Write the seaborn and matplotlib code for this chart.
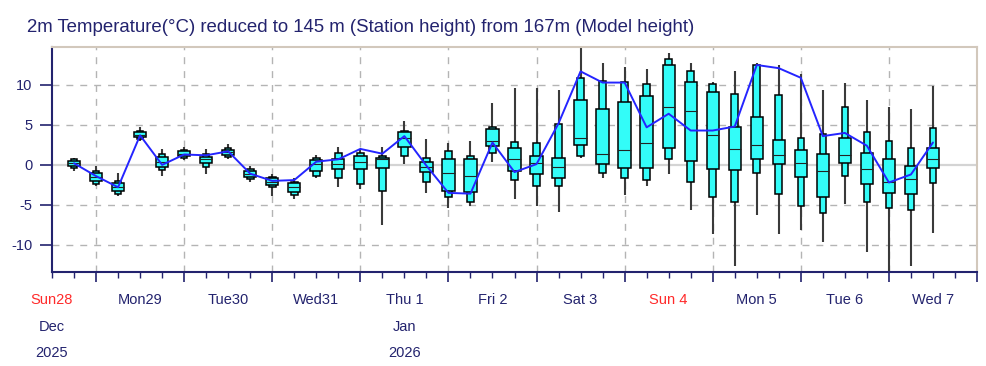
import numpy as np
import pandas as pd
import matplotlib
matplotlib.use('Agg')
import matplotlib.pyplot as plt
import matplotlib.dates as mdates
import matplotlib.transforms as mtransforms
import seaborn as sns

# ensemble 6-hourly steps, Sun 28 Dec 18 UTC .. Wed 7 Jan 12 UTC
times = pd.date_range('2025-12-28 18:00', '2026-01-07 12:00', freq='6h')

t_min = [-0.8, -2.6, -3.9, 3.0, -1.4, 0.6, -1.2, 0.7, -2.2, -3.9,
         -4.3, -1.7, -2.8, -3.0, -7.5, 0.1, -3.5, -5.4, -5.2, 0.4,
         -4.3, -5.1, -5.9, 0.9, -1.6, -3.8, -2.6, -1.2, -5.6, -8.7,
         -12.7, -6.3, -8.6, -8.2, -9.6, -4.9, -10.9, -14.5, -12.6, -8.5]
t_p10 = [-0.4, -2.4, -3.6, 3.3, -0.6, 0.9, -0.3, 1.0, -1.8, -2.8,
         -3.8, -1.4, -1.6, -2.4, -3.3, 1.1, -2.2, -4.0, -4.7, 1.5,
         -1.9, -2.6, -2.7, 1.1, -1.0, -1.6, -1.9, 0.8, -2.2, -4.0,
         -4.7, -1.0, -3.6, -5.2, -6.0, -1.4, -4.7, -5.4, -5.6, -2.3]
t_p25 = [-0.2, -2.0, -3.3, 3.5, -0.3, 1.1, 0.2, 1.3, -1.5, -2.5,
         -3.4, -0.8, -0.5, -0.5, -0.4, 2.3, -0.9, -3.3, -3.4, 2.4,
         -0.8, -1.1, -1.7, 2.5, 0.1, -0.4, -0.4, 2.1, 0.5, -0.5,
         -0.7, 0.8, 0.1, -1.5, -4.0, 0.2, -2.4, -3.5, -3.7, -0.4]
t_med = [0.2, -1.5, -2.8, 3.8, 0.3, 1.4, 0.7, 1.6, -1.1, -2.1,
         -2.8, 0.1, 0.1, 0.3, 0.7, 3.4, -0.3, -1.0, -1.4, 3.0,
         0.7, 0.2, -0.3, 3.4, 1.4, 1.9, 2.8, 7.2, 6.8, 3.8,
         2.0, 2.5, 1.3, 0.2, -0.8, 1.3, -0.5, -2.2, -1.8, 0.8]
t_p75 = [0.5, -1.0, -2.3, 4.1, 1.0, 1.7, 1.0, 1.9, -0.8, -1.7,
         -2.3, 0.6, 0.8, 1.1, 0.9, 4.1, 0.3, 0.7, 0.7, 4.5,
         2.1, 1.1, 0.9, 8.1, 7.0, 7.9, 8.6, 12.5, 10.4, 9.1,
         4.8, 6.0, 3.1, 1.9, 1.4, 3.4, 1.5, 0.8, -0.2, 2.1]
t_p90 = [0.7, -0.8, -2.0, 4.3, 1.4, 1.9, 1.4, 2.1, -0.5, -1.5,
         -2.1, 0.9, 1.5, 1.5, 1.1, 4.3, 0.9, 1.8, 1.1, 4.8,
         2.9, 2.8, 5.1, 10.9, 10.5, 10.4, 10.1, 13.2, 11.8, 10.1,
         8.9, 12.5, 8.7, 3.4, 3.9, 7.3, 4.1, 3.0, 2.1, 4.6]
t_max = [0.9, -0.1, -1.0, 4.7, 2.0, 2.3, 2.0, 2.6, -0.1, -1.2,
         -1.7, 1.2, 2.3, 2.0, 2.2, 5.5, 3.2, 2.8, 3.0, 7.8,
         9.6, 9.6, 9.4, 14.7, 12.7, 12.3, 12.0, 14.0, 12.7, 10.4,
         11.8, 12.7, 12.5, 11.4, 9.4, 10.2, 8.1, 7.3, 7.0, 9.9]

# high resolution run (blue line)
hres = [0.2, -1.4, -2.8, 3.7, 0.0, 1.3, 1.2, 1.7, -1.1, -2.0,
        -1.9, 0.4, 0.7, 2.0, 1.4, 3.6, -0.1, -3.5, -3.6, 2.8,
        -0.9, 0.1, 5.2, 11.7, 10.3, 10.3, 4.7, 6.4, 4.3, 4.3,
        4.8, 12.5, 12.1, 10.9, 3.6, 4.0, 2.4, -2.2, -1.2, 2.8]

day_names = ['Sun28', 'Mon29', 'Tue30', 'Wed31', 'Thu 1', 'Fri 2',
             'Sat 3', 'Sun 4', 'Mon 5', 'Tue 6', 'Wed 7']
day_noons = pd.date_range('2025-12-28 12:00', periods=11, freq='D')

navy = '#23236e'
cyan = '#33fcf8'

sns.set_style('white')
plt.rcParams['font.family'] = ['Liberation Sans', 'DejaVu Sans']
plt.rcParams['axes.unicode_minus'] = False

fig = plt.figure(figsize=(9.86, 3.66), dpi=100)
ax = fig.add_axes([52 / 986, 1 - 272 / 366, 925 / 986, 225 / 366])

xs = mdates.date2num(times)
lo = np.array(t_p10); hi = np.array(t_p90)
q1 = np.array(t_p25); q3 = np.array(t_p75)

ax.vlines(xs, t_min, t_max, color='#3a3a3a', lw=1.5, zorder=2)
ax.bar(xs, hi - lo, bottom=lo, width=0.075, color=cyan,
       edgecolor='black', lw=1.1, zorder=3)
ax.bar(xs, q3 - q1, bottom=q1, width=0.14, color=cyan,
       edgecolor='black', lw=1.1, zorder=4)
ax.hlines(t_med, xs - 0.07, xs + 0.07, color='#222222', lw=0.8, zorder=5)
sns.lineplot(x=xs, y=hres, ax=ax, color='#2424ff', lw=1.4, zorder=6)

x0 = mdates.date2num(pd.Timestamp('2025-12-28 12:00'))
x1 = mdates.date2num(pd.Timestamp('2026-01-08 00:00'))
ax.set_xlim(x0, x1)
ax.set_ylim(-13.4, 14.75)

# grid
for v in [-10, -5, 5, 10]:
    ax.axhline(v, color='#b4b4b4', lw=1, ls=(0, (5, 5)), zorder=1)
ax.axhline(0, color='#d4d4d4', lw=1.6, zorder=1)
midnights = mdates.date2num(pd.date_range('2025-12-29', '2026-01-08', freq='D'))
for m in midnights[:-1]:
    ax.axvline(m, color='#b4b4b4', lw=1, ls=(0, (5, 5)), zorder=1)

ax.set_yticks([-10, -5, 0, 5, 10])
ax.set_yticklabels(['-10', '-5', '0', '5', '10'])
ax.tick_params(axis='y', direction='out', length=9, width=1.2, colors=navy,
               labelsize=10.5, pad=5, left=True)
ax.set_xticks(midnights)
ax.set_xticklabels([''] * len(midnights))
ax.set_xticks(mdates.date2num(pd.date_range('2025-12-28 12:00', '2026-01-08', freq='6h')),
              minor=True)
ax.tick_params(axis='x', which='major', direction='out', length=7, width=1.2,
               colors=navy, bottom=True)
ax.tick_params(axis='x', which='minor', direction='out', length=4, width=1,
               colors=navy, bottom=True)

for side in ['left', 'bottom']:
    ax.spines[side].set_color(navy)
    ax.spines[side].set_linewidth(1.5)
for side in ['top', 'right']:
    ax.spines[side].set_color('#d2c8bc')
    ax.spines[side].set_linewidth(1.5)

trans = mtransforms.blended_transform_factory(ax.transData, ax.transAxes)
for d, name in zip(day_noons, day_names):
    col = '#ff2a2a' if name.startswith('Sun') else navy
    ax.text(mdates.date2num(d), -0.125, name, transform=trans, ha='center',
            va='center', fontsize=10.5, color=col)
for d, mon, yr in [(day_noons[0], 'Dec', '2025'), (day_noons[4], 'Jan', '2026')]:
    ax.text(mdates.date2num(d), -0.245, mon, transform=trans, ha='center',
            va='center', fontsize=10.5, color=navy)
    ax.text(mdates.date2num(d), -0.36, yr, transform=trans, ha='center',
            va='center', fontsize=10.5, color=navy)

fig.text(27 / 986, 1 - 27 / 366,
         '2m Temperature(\u00b0C) reduced to 145 m (Station height) from 167m (Model height)',
         ha='left', va='center', fontsize=13.4, color=navy)

fig.savefig('out.png', dpi=100)
